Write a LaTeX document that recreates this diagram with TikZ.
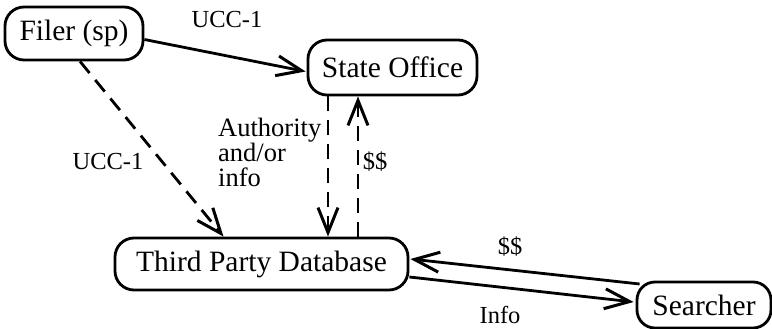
\documentclass[tikz,border=0pt]{standalone}
\usepackage{fontspec}
\setmainfont{Liberation Serif}
\usetikzlibrary{arrows.meta}
\begin{document}
\begin{tikzpicture}[x=1pt,y=-1pt,
  box/.style={draw, line width=2.8pt, rounded corners=19pt, inner sep=0pt,
    font=\fontsize{29.5}{30}\selectfont},
  lbl/.style={inner sep=0pt, anchor=base, font=\fontsize{24.5}{25}\selectfont},
  flow/.style={line width=2.8pt, -{Straight Barb[length=25pt,width=20pt,line width=3pt]}},
  dashflow/.style={flow, dash pattern=on 15pt off 9pt}]
\useasboundingbox (0,0) rectangle (772,329);

% parties
\node[box, minimum width=138pt, minimum height=53pt] (filer) at (74,33.5) {Filer (sp)};
\node[box, minimum width=169pt, minimum height=55pt] (state) at (392.5,67.5) {State Office};
\node[box, minimum width=293pt, minimum height=52pt] (tpd) at (261.5,264) {Third Party Database};
\node[box, minimum width=134pt, minimum height=46pt, rounded corners=18pt] (search) at (704,305) {Searcher};

% filings
\draw[flow] ([yshift=-6pt]filer.east) -- ([yshift=-4pt,xshift=-1pt]state.west);
\draw[dashflow] ([xshift=6pt]filer.south) -- ([xshift=-38pt]tpd.north);

% state office and database
\draw[dashflow] ([xshift=-64.5pt]state.south) -- ([xshift=-64.5pt]state.south |- tpd.north);
\draw[dashflow] ([xshift=96.5pt]tpd.north) -- ([xshift=96.5pt]tpd.north |- state.south);

% searcher and database
\draw[flow] ([xshift=4pt,yshift=21pt]search.west) -- ([xshift=1pt,yshift=5pt]tpd.east);
\draw[flow] ([yshift=-13pt]tpd.east) -- ([xshift=-2pt,yshift=3pt]search.west);

% labels
\node[lbl] (l1) at (227,28) {UCC-1};
\node[lbl] (l2) at (108,169) {UCC-1};
\node[lbl, anchor=north west, align=left, font=\fontsize{26.5}{25}\selectfont] (l3) at (218,118) {Authority\\and/or\\info};
\node[lbl] (l4) at (375,169) {\$\$};
\node[lbl] (l5) at (510,254) {\$\$};
\node[lbl] (l6) at (500,323) {Info};
\end{tikzpicture}
\end{document}
